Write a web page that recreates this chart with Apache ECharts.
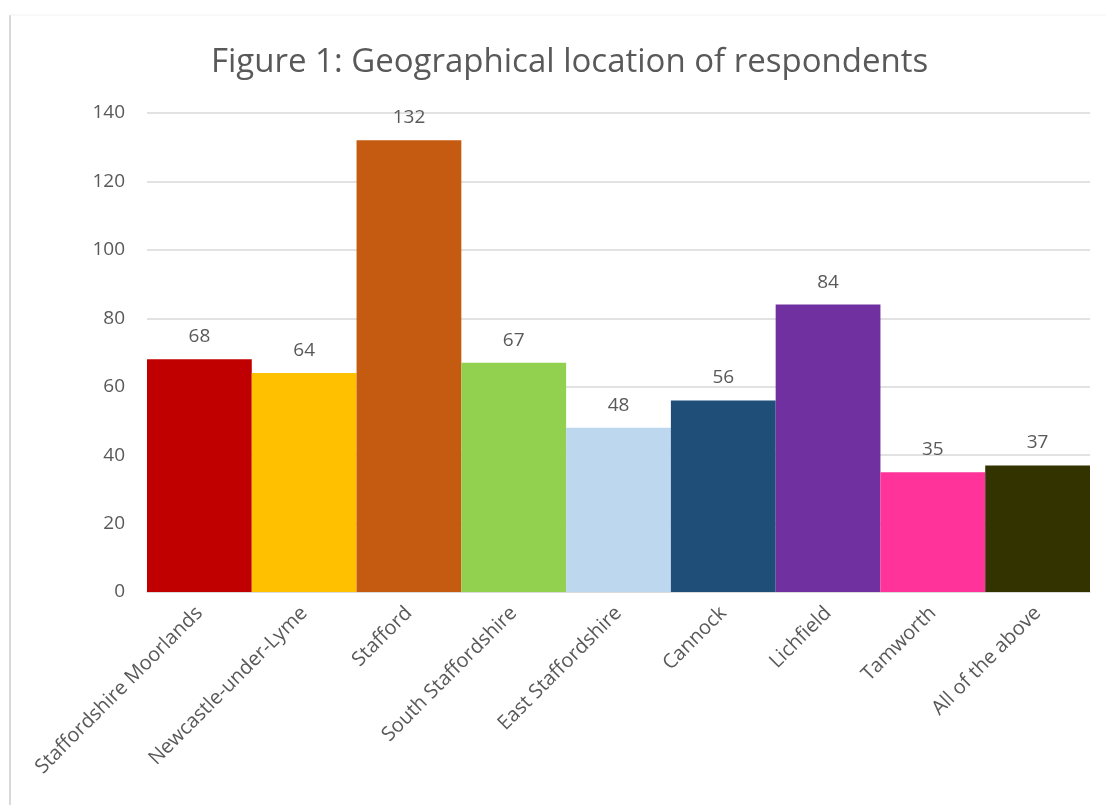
<!DOCTYPE html>
<html>
<head>
<meta charset="utf-8">
<script src="https://cdn.jsdelivr.net/npm/echarts@6/dist/echarts.min.js"></script>
<style>
  html, body { margin: 0; padding: 0; background: #fff; }
  #chart { width: 1106px; height: 805px; }
</style>
</head>
<body>
<div id="chart"></div>
<script>
var categories = ['Staffordshire Moorlands', 'Newcastle-under-Lyme', 'Stafford', 'South Staffordshire',
  'East Staffordshire', 'Cannock', 'Lichfield', 'Tamworth', 'All of the above'];
var values = [68, 64, 132, 67, 48, 56, 84, 35, 37];
var barColors = ['#C00000', '#FFC000', '#C55A11', '#92D050', '#BDD7EE', '#1F4E79', '#7030A0', '#FF3399', '#333300'];
var yTicks = { min: 0, max: 140, interval: 20 };

var chart = echarts.init(document.getElementById('chart'), null, { renderer: 'canvas' });
var textColor = '#595959';
var fontFam = '"Open Sans", "Noto Sans", sans-serif';

var option = {
  backgroundColor: '#fff',
  animation: false,
  title: {
    text: 'Figure 1: Geographical location of respondents',
    left: 206,
    top: 41,
    textStyle: { color: textColor, fontSize: 33, fontWeight: 'normal', fontFamily: fontFam }
  },
  graphic: [
    { type: 'line', shape: { x1: 10, y1: 15, x2: 10, y2: 805 }, style: { stroke: '#d9d9d9', lineWidth: 2 } },
    { type: 'line', shape: { x1: 10, y1: 15, x2: 1106, y2: 15 }, style: { stroke: '#f2f2f2', lineWidth: 1 } }
  ],
  grid: { left: 147, right: 16, top: 113, bottom: 213, containLabel: false },
  xAxis: {
    type: 'category',
    data: categories,
    axisTick: { show: false },
    axisLine: { lineStyle: { color: '#d9d9d9', width: 1.5 } },
    axisLabel: { rotate: 45, color: textColor, fontSize: 20, fontFamily: fontFam, margin: 18, interval: 0 }
  },
  yAxis: {
    type: 'value',
    min: yTicks.min,
    max: yTicks.max,
    interval: yTicks.interval,
    axisLine: { show: false },
    axisTick: { show: false },
    axisLabel: { color: textColor, fontSize: 19, fontFamily: fontFam, margin: 22 },
    splitLine: { lineStyle: { color: '#d9d9d9', width: 1.5 } }
  },
  series: [{
    type: 'bar',
    barWidth: '100%',
    barCategoryGap: 0,
    data: values.map(function (v, i) { return { value: v, itemStyle: { color: barColors[i] } }; }),
    label: { show: true, position: 'top', distance: 13, color: textColor, fontSize: 19, fontFamily: fontFam }
  }]
};

chart.setOption(option);
</script>
</body>
</html>
